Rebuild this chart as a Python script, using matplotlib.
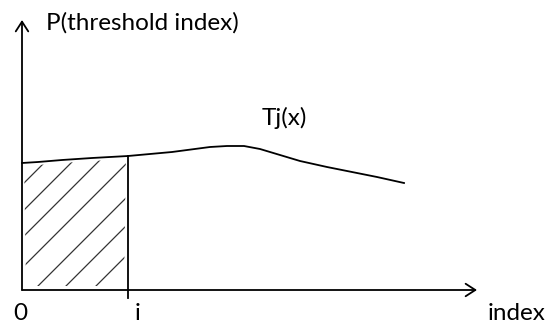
import matplotlib
matplotlib.use('Agg')
import matplotlib.pyplot as plt
from matplotlib.patches import Polygon
import numpy as np

# curve T_j(x) (x = index, y = P)
curve_x = [0, 16, 40, 70, 106, 150, 188, 205, 222, 238, 258, 278, 305, 330, 355, 382]
curve_y = [127, 128, 130, 132, 134, 138, 143, 144, 144, 141, 135, 129, 123, 118, 113, 107]

i_pos = 106          # position of the "i" mark
hatch_offsets = [105, 78, 52, 22, -12, -40, -70]   # lines y = x + c

x_end = 455
y_end = 270

plt.rcParams['font.family'] = ['Lato', 'DejaVu Sans']

fig = plt.figure(figsize=(5.49, 3.27), dpi=100)
ax = fig.add_axes([0, 0, 1, 1])
ax.set_xlim(-22, 527)
ax.set_ylim(-37, 290)
ax.axis('off')

# axes with open arrow heads
arrow = dict(arrowstyle='->,head_length=0.7,head_width=0.45', color='black', lw=1.3,
             shrinkA=0, shrinkB=0)
ax.annotate('', xy=(0, y_end), xytext=(0, 0), arrowprops=arrow)
ax.annotate('', xy=(x_end, 0), xytext=(0, 0), arrowprops=arrow)

# the curve
ax.plot(curve_x, curve_y, color='black', lw=1.3)

# vertical line at i down through a small tick
yi = np.interp(i_pos, curve_x, curve_y)
ax.plot([i_pos, i_pos], [yi, -8], color='black', lw=1.3)

# hatched area under the curve up to i
xs = np.linspace(0, i_pos, 50)
ys = np.interp(xs, curve_x, curve_y)
shrink = Polygon(np.column_stack([np.r_[4, xs[1:-1], i_pos - 4],
                                  np.r_[4, ys[1:-1] - 3, 4]]), closed=True, fill=False, lw=0)
ax.add_patch(shrink)
for c in hatch_offsets:
    hx = np.array([-50, 200])
    ln, = ax.plot(hx, hx + c, color='#333333', lw=0.9)
    ln.set_clip_path(shrink)

# labels
fs = 17.5
ax.text(24, 267, 'P(threshold index)', fontsize=fs, va='center', ha='left')
ax.text(240, 172, 'Tj(x)', fontsize=fs, va='center', ha='left')
ax.text(-9, -24, '0', fontsize=fs, va='center', ha='left')
ax.text(i_pos + 7, -24, 'i', fontsize=fs, va='center', ha='left')
ax.text(466, -24, 'index', fontsize=fs, va='center', ha='left')

fig.savefig('out.png', dpi=100)
